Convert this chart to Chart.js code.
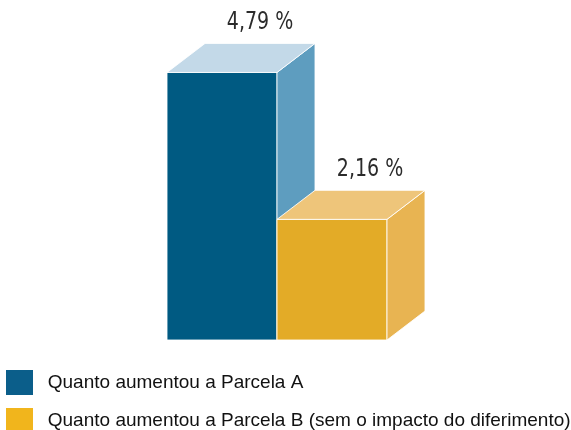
<!DOCTYPE html>
<html>
<head>
<meta charset="utf-8">
<script src="https://cdn.jsdelivr.net/npm/chart.js@4"></script>
<style>
  html, body { margin: 0; padding: 0; background: #fff; overflow: hidden; }
  #wrap { width: 571px; height: 430px; position: relative; }
</style>
</head>
<body>
<div id="wrap"><canvas id="parcelas"></canvas></div>
<script>
const categories = ['Parcela A', 'Parcela B'];
const seriesNames = ['Quanto aumentou a Parcela A', 'Quanto aumentou a Parcela B (sem o impacto do diferimento)'];
const seriesA = [4.79, null];
const seriesB = [null, 2.16];
const valueLabels = ['4,79 %', '2,16 %'];

// front / side / top colours of each box, and the legend squares
const frontColors = ['#005a82', '#e3ab27'];
const sideColors = ['#5e9dbf', '#e8b452'];
const topColors = ['#c3d9e8', '#eec57a'];
const legendColors = ['#0b5e8a', '#f1b51c'];

const depthX = 38;
const depthY = 29;

const boxes3d = {
  id: 'boxes3d',
  afterDatasetDraw(chart, args) {
    const ctx = chart.ctx;
    const i = args.index;
    const meta = args.meta;
    meta.data.forEach((bar, j) => {
      const v = chart.data.datasets[i].data[j];
      if (v === null || v === undefined) return;
      const p = bar.getProps(['x', 'y', 'base', 'width'], true);
      const left = p.x - p.width / 2;
      const right = p.x + p.width / 2;
      const top = p.y;
      const base = p.base;
      ctx.save();
      ctx.strokeStyle = 'rgba(255,255,255,0.85)';
      ctx.lineWidth = 1;
      ctx.lineJoin = 'round';

      // front edge
      ctx.strokeRect(left, top, p.width, base - top);

      // side face
      ctx.beginPath();
      ctx.moveTo(right, top);
      ctx.lineTo(right + depthX, top - depthY);
      ctx.lineTo(right + depthX, base - depthY);
      ctx.lineTo(right, base);
      ctx.closePath();
      ctx.fillStyle = sideColors[i];
      ctx.fill();
      ctx.stroke();

      // top face
      ctx.beginPath();
      ctx.moveTo(left, top);
      ctx.lineTo(left + depthX, top - depthY);
      ctx.lineTo(right + depthX, top - depthY);
      ctx.lineTo(right, top);
      ctx.closePath();
      ctx.fillStyle = topColors[i];
      ctx.fill();
      ctx.stroke();

      // value label, squeezed a bit to look like a condensed face
      ctx.translate(p.x + depthX, top - depthY - 14);
      ctx.scale(0.88, 1);
      ctx.fillStyle = '#2b2b2b';
      ctx.font = '24px "DejaVu Sans Condensed", "Liberation Sans", sans-serif';
      ctx.textAlign = 'center';
      ctx.textBaseline = 'alphabetic';
      ctx.fillText(valueLabels[j], 0, 0);
      ctx.restore();
    });
  }
};

new Chart(document.getElementById('parcelas'), {
  type: 'bar',
  data: {
    labels: categories,
    datasets: [
      {
        label: seriesNames[0],
        data: seriesA,
        backgroundColor: frontColors[0],
        borderWidth: 0,
        order: 2
      },
      {
        label: seriesNames[1],
        data: seriesB,
        backgroundColor: frontColors[1],
        borderWidth: 0,
        order: 1
      }
    ]
  },
  options: {
    responsive: true,
    maintainAspectRatio: false,
    animation: false,
    grouped: false,
    barPercentage: 1,
    categoryPercentage: 1,
    layout: {
      padding: { left: -7, right: 0, top: 30, bottom: -13 }
    },
    scales: {
      x: {
        display: true,
        grid: { display: false },
        border: { display: false },
        ticks: { display: false },
        afterFit: s => { s.height = 17; }
      },
      y: {
        min: 0,
        max: 5.55,
        display: true,
        grid: { display: false },
        border: { display: false },
        ticks: { display: false },
        afterFit: s => { s.width = 174; }
      },
      y2: {
        position: 'right',
        display: true,
        grid: { display: false },
        border: { display: false },
        ticks: { display: false },
        afterFit: s => { s.width = 184; }
      }
    },
    plugins: {
      tooltip: { enabled: false },
      legend: {
        position: 'bottom',
        align: 'start',
        labels: {
          boxWidth: 27,
          boxHeight: 25,
          padding: 13,
          color: '#111',
          font: { family: '"Liberation Sans", Arial, sans-serif', size: 19 },
          sort: (a, b) => a.datasetIndex - b.datasetIndex,
          generateLabels: chart => {
            const items = Chart.defaults.plugins.legend.labels.generateLabels(chart);
            items.forEach(it => {
              it.fillStyle = legendColors[it.datasetIndex];
              it.lineWidth = 0;
              it.text = ' ' + it.text;
            });
            return items;
          }
        }
      }
    }
  },
  plugins: [boxes3d]
});
</script>
</body>
</html>
